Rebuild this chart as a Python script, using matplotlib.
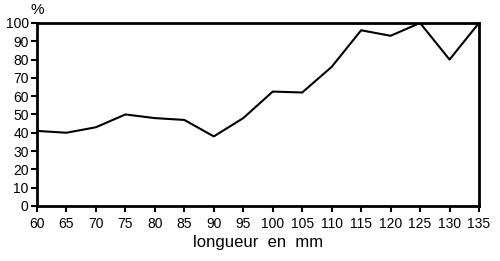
import matplotlib
matplotlib.use('Agg')
import matplotlib.pyplot as plt

plt.rcParams['font.family'] = ['Liberation Sans', 'DejaVu Sans']

longueur = [60, 65, 70, 75, 80, 85, 90, 95, 100, 105, 110, 115, 120, 125, 130, 135]
pourcent = [41, 40, 43, 50, 48, 47, 38, 48, 62.5, 62, 76, 96, 93, 100, 80, 100]

fig = plt.figure(figsize=(5, 2.61), dpi=100)
ax = fig.add_axes([0.074, 0.211, 0.884, 0.701])

ax.plot(longueur, pourcent, color='black', linewidth=1.5)

ax.set_xlim(60, 135)
ax.set_ylim(0, 100)
ax.set_xticks(range(60, 136, 5))
ax.set_yticks(range(0, 101, 10))

for s in ax.spines.values():
    s.set_linewidth(2)
ax.tick_params(direction='out', length=4, width=1.5, labelsize=10, pad=2)
ax.tick_params(axis='x', pad=4)

ax.set_xlabel('longueur  en  mm', fontsize=12, labelpad=3)
ax.text(-0.015, 1.03, '%', transform=ax.transAxes, fontsize=11, ha='left', va='bottom')

fig.savefig('out.png', dpi=100)
